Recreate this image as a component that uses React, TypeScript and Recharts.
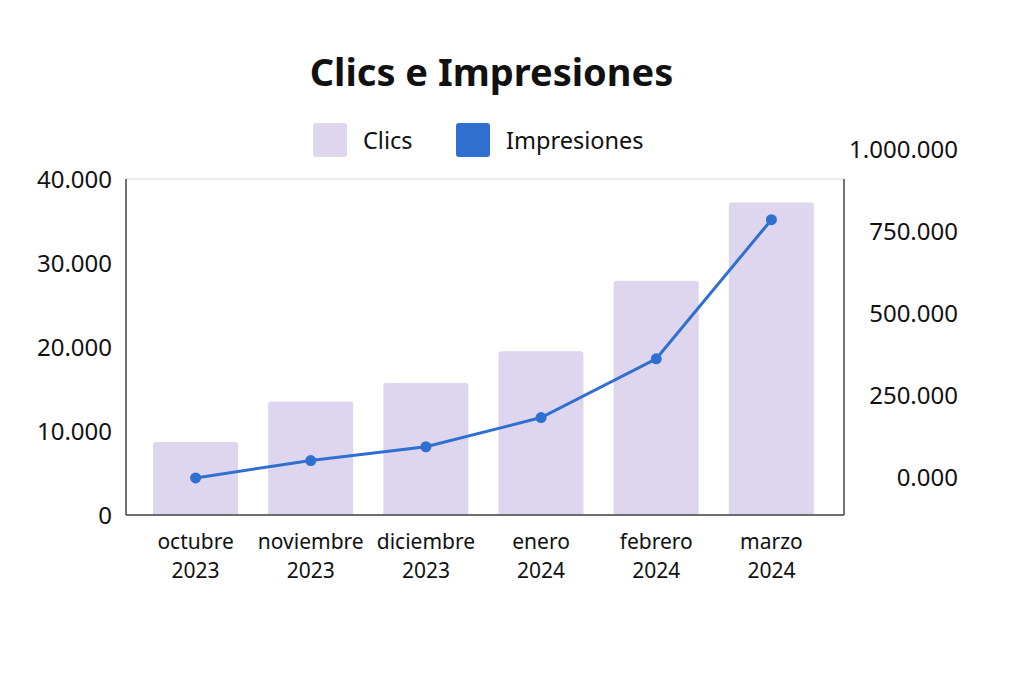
import {
  ComposedChart,
  Bar,
  Line,
  XAxis,
  YAxis,
  CartesianGrid,
} from "recharts";

const categories = [
  "octubre 2023",
  "noviembre 2023",
  "diciembre 2023",
  "enero 2024",
  "febrero 2024",
  "marzo 2024",
];
const clics = [8700, 13500, 15700, 19500, 27900, 37200];
const impresiones = [0, 53000, 95000, 184000, 363000, 787000];
const leftTicks = [0, 10000, 20000, 30000, 40000];
const rightTicks = [0, 250000, 500000, 750000, 1000000];

const FONT = "'Noto Sans', sans-serif";
const BAR_COLOR = "#ddd6ee";
const LINE_COLOR = "#2f6fcf";

const data = categories.map((c, i) => ({
  name: c,
  clics: clics[i],
  impresiones: impresiones[i],
}));

// dots as thousands separator, like the reference
const fmt = (v: number) => String(v).replace(/\B(?=(\d{3})+(?!\d))/g, ".");

// month on the first line, year below, as separate texts
function MonthTick({ x, y, payload }: any) {
  const [month, year] = String(payload.value).split(" ");
  return (
    <g>
      <text x={x} y={y + 26} textAnchor="middle" fill="#111" fontSize={21} fontFamily={FONT}>
        {month}
      </text>
      <text x={x} y={y + 55} textAnchor="middle" fill="#111" fontSize={21} fontFamily={FONT}>
        {year}
      </text>
    </g>
  );
}

function RightTick({ x, y, payload }: any) {
  const v = payload.value as number;
  return (
    <text x={x + 114} y={y} dy={8} textAnchor="end" fill="#111" fontSize={24} fontFamily={FONT}>
      {v === 0 ? "0.000" : fmt(v)}
    </text>
  );
}

// legend drawn as plain html so it doesn't push the plot down
function ChartLegend() {
  const items = [
    { label: "Clics", color: BAR_COLOR, left: 313 },
    { label: "Impresiones", color: LINE_COLOR, left: 456 },
  ];
  return (
    <>
      {items.map((it) => (
        <div
          key={it.label}
          style={{
            position: "absolute",
            top: 123,
            left: it.left,
            display: "flex",
            alignItems: "center",
            fontFamily: FONT,
          }}
        >
          <div
            style={{
              width: 34,
              height: 34,
              borderRadius: 3,
              background: it.color,
              marginRight: 16,
            }}
          />
          <span style={{ fontSize: 23.5, color: "#111" }}>{it.label}</span>
        </div>
      ))}
    </>
  );
}

export default function App() {
  return (
    <div style={{ margin: -8, width: 1024, height: 683, position: "relative", background: "#fff" }}>
      <div
        style={{
          position: "absolute",
          top: 45,
          left: 0,
          width: 983,
          textAlign: "center",
          fontFamily: FONT,
          fontWeight: 700,
          fontSize: 38,
          color: "#111",
        }}
      >
        Clics e Impresiones
      </div>
      <ChartLegend />
      <ComposedChart
        width={1024}
        height={683}
        data={data}
        margin={{ top: 179, right: 0, bottom: 108, left: 8 }}
      >
        <CartesianGrid vertical={false} stroke="#e6e6e6" strokeWidth={1.5} />
        <XAxis
          dataKey="name"
          tick={<MonthTick />}
          tickLine={false}
          axisLine={{ stroke: "#444", strokeWidth: 1.5 }}
          interval={0}
          height={60}
          padding={{ left: 12, right: 15 }}
        />
        <YAxis
          yAxisId="left"
          domain={[0, 40000]}
          ticks={leftTicks}
          tickFormatter={fmt}
          width={118}
          tickLine={false}
          tickSize={0}
          tickMargin={14}
          axisLine={{ stroke: "#444", strokeWidth: 1.5 }}
          tick={{ fontSize: 24, fill: "#111", fontFamily: FONT }}
        />
        <YAxis
          yAxisId="right"
          orientation="right"
          domain={[-113000, 911000]}
          allowDataOverflow
          ticks={rightTicks}
          width={180}
          tickLine={false}
          tickSize={0}
          tickMargin={0}
          axisLine={{ stroke: "#444", strokeWidth: 1.5 }}
          tick={<RightTick />}
        />
        <Bar
          yAxisId="left"
          dataKey="clics"
          name="Clics"
          fill={BAR_COLOR}
          barSize={85}
          radius={[3, 3, 0, 0]}
          isAnimationActive={false}
        />
        <Line
          yAxisId="right"
          dataKey="impresiones"
          name="Impresiones"
          type="linear"
          stroke={LINE_COLOR}
          strokeWidth={3}
          dot={{ r: 5.5, fill: LINE_COLOR, stroke: LINE_COLOR, strokeWidth: 0 }}
          isAnimationActive={false}
        />
      </ComposedChart>
    </div>
  );
}
